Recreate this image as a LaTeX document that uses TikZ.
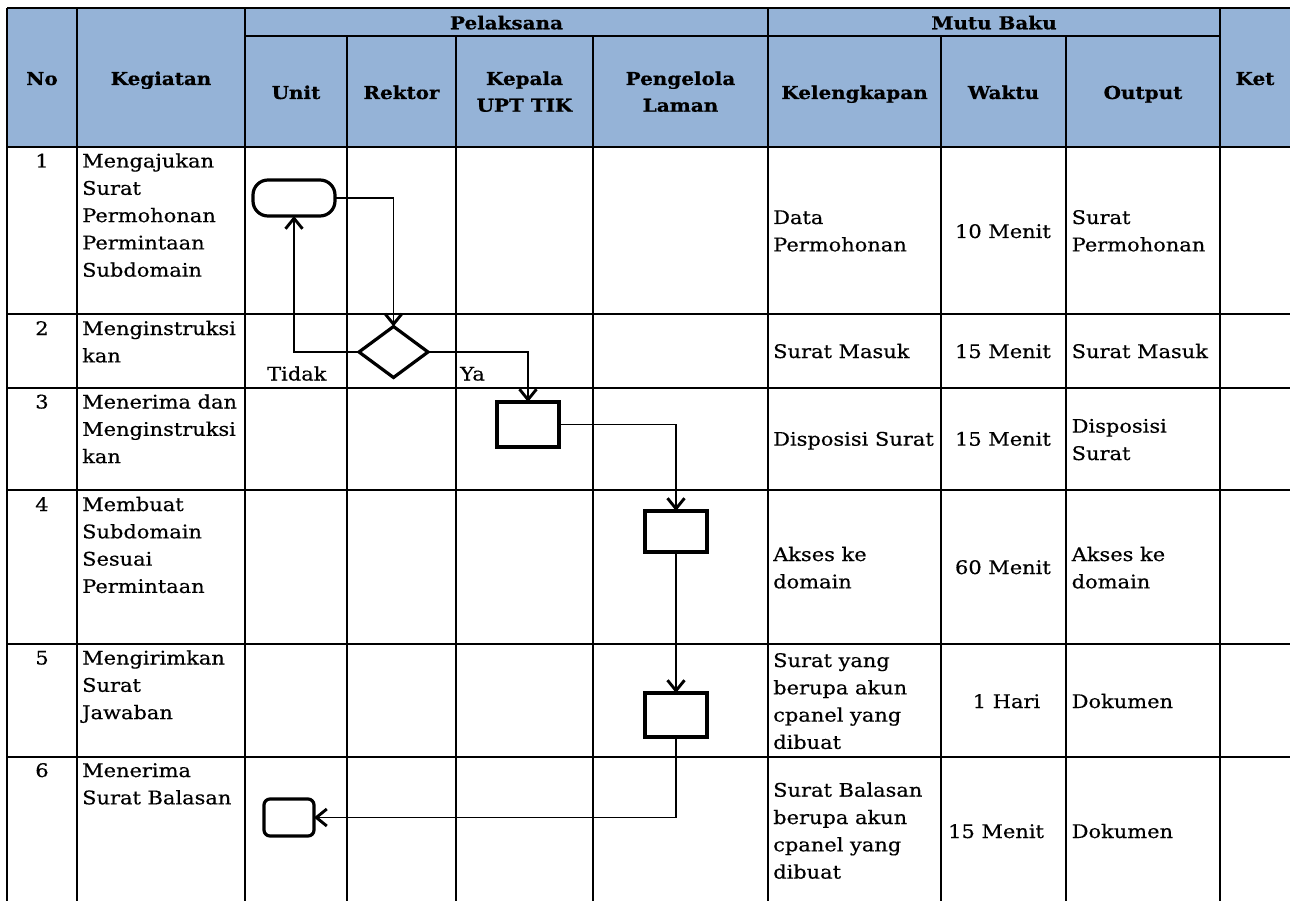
\documentclass[tikz,border=0pt]{standalone}
\usepackage{fontspec}
\setmainfont{DejaVu Serif}[FakeStretch=1.12, UprightFeatures={FakeBold=0.5}, BoldFeatures={FakeBold=0.6}]
\usetikzlibrary{shapes.geometric,arrows.meta}
\definecolor{hdfill}{HTML}{95B3D7}
\newcommand{\ml}[1]{\parbox[t]{220pt}{#1}}
\newcommand{\mlc}[1]{\parbox[t]{150pt}{\centering #1}}
\begin{document}
\begin{tikzpicture}[x=1pt,y=-1pt,
  hgrid/.style={line width=1.8pt},
  bgrid/.style={line width=1.5pt},
  hd/.style={font=\fontsize{17.8}{26.7}\selectfont\bfseries, inner sep=0, anchor=base},
  tx/.style={font=\fontsize{18.7}{27.3}\selectfont, inner sep=0, anchor=base west},
  txc/.style={tx, anchor=base},
  txe/.style={tx, anchor=base east},
  shp/.style={draw, line width=3.2pt, inner sep=0, outer sep=0},
  conn/.style={line width=1.4pt, -{Straight Barb[length=10.5pt,width=17pt,line width=2.9pt]}},
]
\useasboundingbox (0,0) rectangle (1290,901);
% header background
\fill[hdfill] (7,8) rectangle (1290,147);
% header lines
\draw[hgrid] (7,8) -- (1290,8);
\draw[hgrid] (245,36) -- (1220,36);
\draw[hgrid] (7,147) -- (1290,147);
\foreach \x in {7,77,245,768,1220} \draw[hgrid] (\x,8) -- (\x,147);
\foreach \x in {347,456,593,941,1066} \draw[hgrid] (\x,36) -- (\x,147);
% body lines
\foreach \x in {7,77,245,347,456,593,768,941,1066,1220} \draw[bgrid] (\x,147) -- (\x,901);
\foreach \y in {314,388,490,644,757} \draw[bgrid] (7,\y) -- (1290,\y);

% header texts
\node[hd] (hpel) at (506.5,29.3) {Pelaksana};
\node[hd] (hmb) at (994,29.3) {Mutu Baku};
\node[hd] (hno) at (42,85) {No};
\node[hd] (hkeg) at (161,85) {Kegiatan};
\node[hd] (hket) at (1255,85) {Ket};
\node[hd] (hunit) at (296,99) {Unit};
\node[hd] (hrek) at (401.5,99) {Rektor};
\node[hd] (hkep) at (524.5,85) {\mlc{Kepala\\UPT TIK}};
\node[hd] (hpeng) at (680.5,85) {\mlc{Pengelola\\Laman}};
\node[hd] (hkel) at (854.5,99) {Kelengkapan};
\node[hd] (hwak) at (1003.5,99) {Waktu};
\node[hd] (hout) at (1143,99) {Output};

% numbers
\node[txc] (n1) at (42,167.5) {1};
\node[txc] (n2) at (42,335) {2};
\node[txc] (n3) at (42,408.5) {3};
\node[txc] (n4) at (42,511) {4};
\node[txc] (n5) at (42,664.5) {5};
\node[txc] (n6) at (42,777) {6};
% kegiatan
\node[tx] (k1) at (82,167.5) {\ml{Mengajukan\\Surat\\Permohonan\\Permintaan\\Subdomain}};
\node[tx] (k2) at (82,335) {\ml{Menginstruksi\\kan}};
\node[tx] (k3) at (82,408.5) {\ml{Menerima dan\\Menginstruksi\\kan}};
\node[tx] (k4) at (82,511) {\ml{Membuat\\Subdomain\\Sesuai\\Permintaan}};
\node[tx] (k5) at (82,664.5) {\ml{Mengirimkan\\Surat\\Jawaban}};
\node[tx] (k6) at (82,777) {\ml{Menerima\\Surat Balasan}};
% kelengkapan
\node[tx] (l1) at (773,224) {\ml{Data\\Permohonan}};
\node[tx] (l2) at (773,358) {Surat Masuk};
\node[tx] (l3) at (773,445.7) {Disposisi Surat};
\node[tx] (l4) at (773,561) {\ml{Akses ke\\domain}};
\node[tx] (l5) at (773,667) {\ml{Surat yang\\berupa akun\\cpanel yang\\dibuat}};
\node[tx] (l6) at (773,796.7) {\ml{Surat Balasan\\berupa akun\\cpanel yang\\dibuat}};
% waktu
\node[txe] (w1) at (1051,238) {10 Menit};
\node[txe] (w2) at (1051,358) {15 Menit};
\node[txe] (w3) at (1051,445.7) {15 Menit};
\node[txe] (w4) at (1051,574) {60 Menit};
\node[txc] (w5) at (1006.5,708) {1 Hari};
\node[tx] (w6) at (948,838) {15 Menit};
% output
\node[tx] (o1) at (1071.5,224) {\ml{Surat\\Permohonan}};
\node[tx] (o2) at (1071.5,358) {Surat Masuk};
\node[tx] (o3) at (1071.5,432.7) {\ml{Disposisi\\Surat}};
\node[tx] (o4) at (1071.5,561) {\ml{Akses ke\\domain}};
\node[tx] (o5) at (1071.5,708) {Dokumen};
\node[tx] (o6) at (1071.5,838) {Dokumen};

% flow shapes
\node[shp, rounded corners=15pt, minimum width=82pt, minimum height=36pt] (t1) at (294,198) {};
\node[shp, diamond, minimum width=69pt, minimum height=51pt] (d) at (393.5,352) {};
\node[shp, minimum width=62pt, minimum height=45pt] (r3) at (528,424.5) {};
\node[shp, minimum width=62pt, minimum height=41pt] (r4) at (676,531.5) {};
\node[shp, minimum width=62pt, minimum height=44pt] (r5) at (676,715) {};
\node[shp, rounded corners=6pt, minimum width=50pt, minimum height=37pt] (t6) at (289,817.5) {};

\node[tx] (lt) at (267,380.5) {Tidak};
\node[tx] (ly) at (460,380.5) {Ya};

% connectors
\draw[conn] (t1.east) -| (d.north);
\draw[conn] (d.west) -| (t1.south);
\draw[conn] (d.east) -| (r3.north);
\draw[conn] (r3.east) -| (r4.north);
\draw[conn] (r4.south) -- (r5.north);
\draw[conn] (r5.south) |- (t6.east);
\end{tikzpicture}
\end{document}
